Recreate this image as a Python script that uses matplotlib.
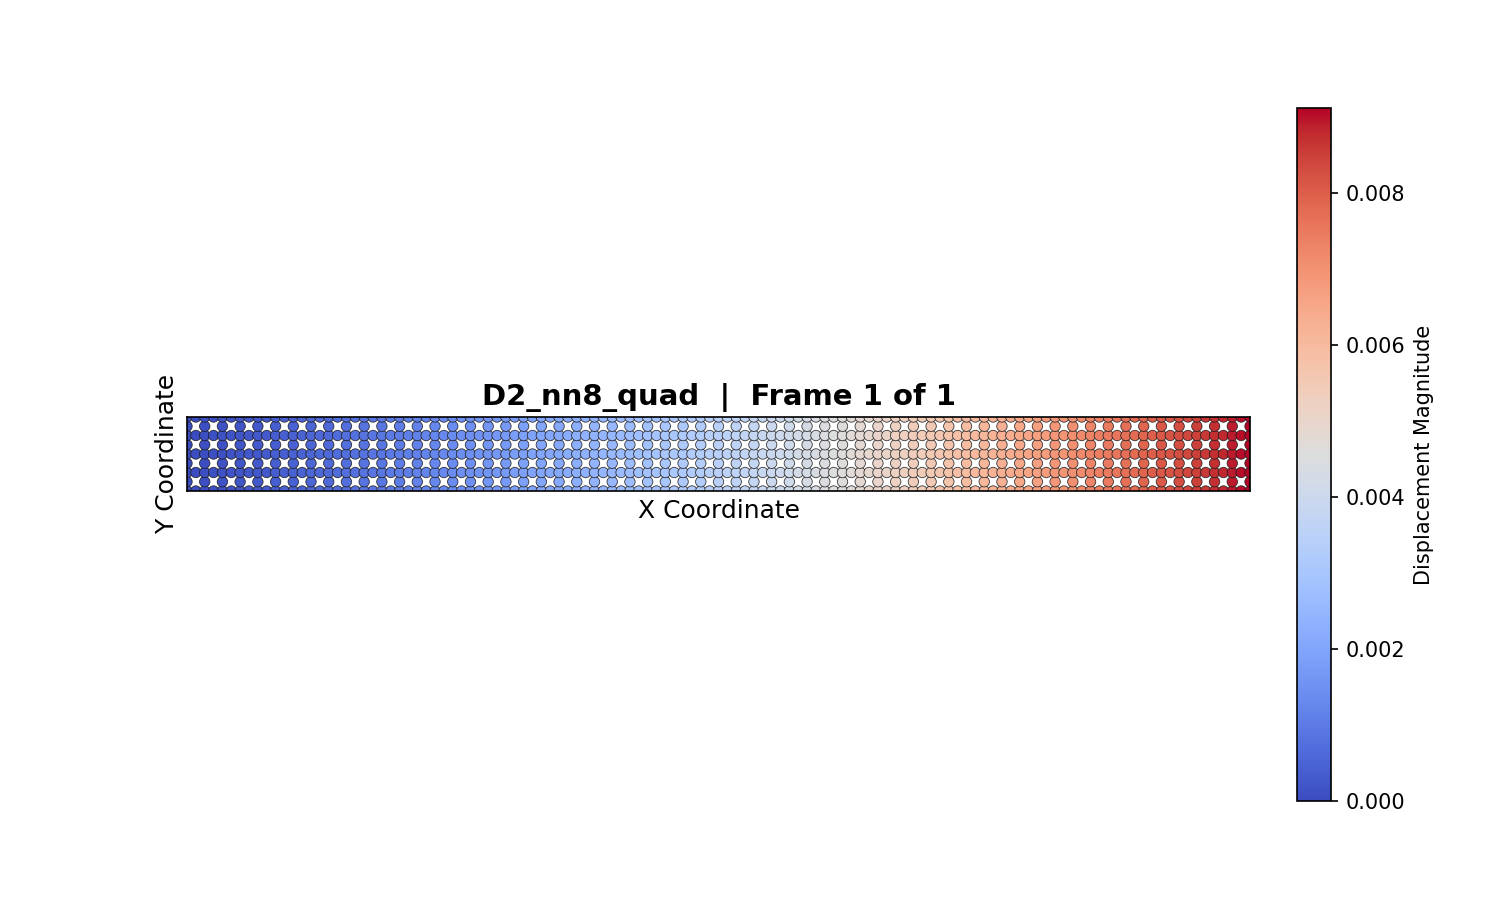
import numpy as np
import matplotlib
matplotlib.use("Agg")
import matplotlib.pyplot as plt

# Mesh description (quadratic serendipity quad elements: 8 nodes, no centre node)
n_elem_x = 60
n_elem_y = 4
length_x = 10.0
height_y = 0.7

column_disp_e3 = [
    0.00, 0.03, 0.06, 0.10, 0.13, 0.17, 0.21, 0.24, 0.28, 0.32,
    0.36, 0.41, 0.45, 0.49, 0.54, 0.58, 0.63, 0.67, 0.72, 0.77,
    0.82, 0.87, 0.92, 0.98, 1.03, 1.08, 1.14, 1.20, 1.25, 1.31,
    1.37, 1.43, 1.49, 1.55, 1.61, 1.67, 1.73, 1.80, 1.86, 1.93,
    2.00, 2.06, 2.13, 2.20, 2.27, 2.34, 2.41, 2.48, 2.55, 2.62,
    2.70, 2.77, 2.85, 2.92, 3.00, 3.07, 3.15, 3.23, 3.31, 3.39,
    3.47, 3.55, 3.63, 3.71, 3.79, 3.87, 3.96, 4.04, 4.12, 4.21,
    4.30, 4.38, 4.47, 4.55, 4.64, 4.73, 4.82, 4.91, 5.00, 5.09,
    5.18, 5.27, 5.36, 5.45, 5.55, 5.64, 5.73, 5.83, 5.92, 6.02,
    6.11, 6.21, 6.30, 6.40, 6.49, 6.59, 6.69, 6.79, 6.88, 6.98,
    7.08, 7.18, 7.28, 7.38, 7.48, 7.58, 7.68, 7.78, 7.88, 7.99,
    8.09, 8.19, 8.29, 8.39, 8.50, 8.60, 8.70, 8.81, 8.91, 9.02,
    9.12,
]

title = "D2_nn8_quad  |  Frame 1 of 1"
x_label = "X Coordinate"
y_label = "Y Coordinate"
cbar_label = "Displacement Magnitude"

# Build node list
xs, ys, vals = [], [], []
ncol = 2 * n_elem_x + 1
nrow = 2 * n_elem_y + 1
for k in range(ncol):
    for r in range(nrow):
        if k % 2 == 1 and r % 2 == 1:
            continue  # no centre node in 8-node quad
        xs.append(k * length_x / (ncol - 1))
        ys.append(r * height_y / (nrow - 1))
        vals.append(column_disp_e3[k] * 1e-3)
xs = np.array(xs)
ys = np.array(ys)
vals = np.array(vals)

fig = plt.figure(figsize=(10, 6), dpi=150)
W, H = 1500.0, 900.0
ax = fig.add_axes([187 / W, 1 - 491 / H, 1063 / W, 74 / H])
sc = ax.scatter(xs, ys, c=vals, cmap="coolwarm", s=25,
                edgecolors=(0.1, 0.1, 0.1, 0.85),
                linewidths=0.4, vmin=0, vmax=vals.max(), zorder=2)
ax.set_xlim(0, length_x)
ax.set_ylim(0, height_y)
ax.set_xticks([])
ax.set_yticks([])
ax.set_title(title, fontsize=14, fontweight="bold")
ax.set_xlabel(x_label, fontsize=12)
ax.set_ylabel(y_label, fontsize=12)

cax = fig.add_axes([1297 / W, 1 - 801 / H, 34 / W, 693 / H])
cb = fig.colorbar(sc, cax=cax)
cb.set_label(cbar_label, fontsize=10)
cb.ax.tick_params(labelsize=10)

fig.savefig("out.png", dpi=150)
